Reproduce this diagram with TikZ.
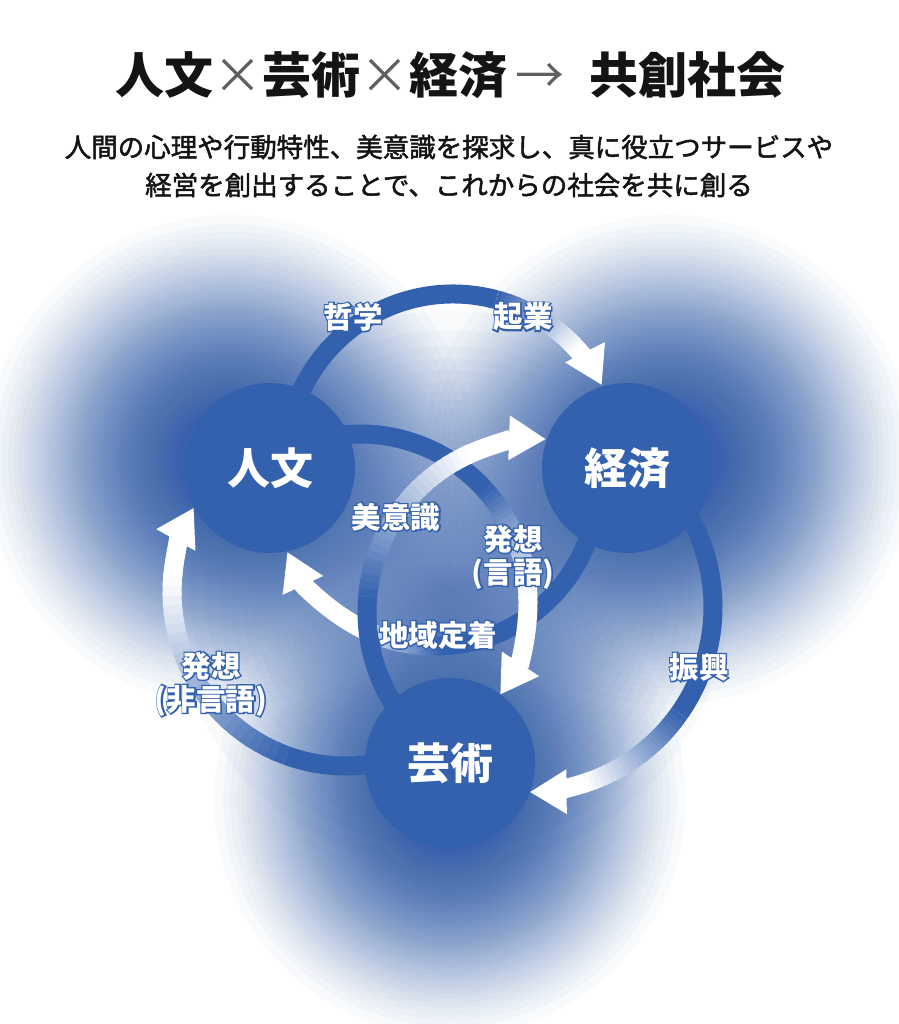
\documentclass[tikz,border=0pt]{standalone}
\usepackage{fontspec}
\setmainfont{Noto Sans CJK JP}
\newfontfamily\leadfont{Noto Sans CJK JP}[FakeBold=1.8]
\newfontfamily\halofont{Noto Sans CJK JP}[BoldFeatures={FakeBold=9}]
\usetikzlibrary{positioning,arrows.meta}
\definecolor{bandclr}{RGB}{52,97,174}
\definecolor{inkclr}{RGB}{20,20,20}
\definecolor{opclr}{RGB}{95,95,95}
\newcommand{\opsym}[1]{{\mdseries\color{opclr}#1}}
\newcommand{\halo}[1]{\leavevmode\rlap{\halofont\bfseries\color{bandclr}#1}#1}
\newcommand{\glowblob}[4]{%
  \foreach \i in {1,...,#4}{%
    \pgfmathsetmacro{\blobr}{#3*(1-(\i/(#4+0.5))^0.556)}%
    \fill[bandclr, fill opacity=0.03] (#1,#2) circle (\blobr);
  }
}
\newcommand{\flowarc}[6]{%
  \draw[band] (#1) ++(#3:#2) arc[start angle=#3, end angle=#4, radius=#2];
  \foreach \k in {0,...,23}{%
    \pgfmathsetmacro{\angA}{#4+(#5-#4)*\k/24}%
    \pgfmathsetmacro{\angB}{#4+(#5-#4)*(\k+1.4)/24}%
    \pgfmathtruncatemacro{\tonepct}{100-100*(\k+0.5)/24}%
    \draw[band, draw=bandclr!\tonepct!white] (#1) ++(\angA:#2) arc[start angle=\angA, end angle=\angB, radius=#2];
  }
  \draw[band, draw=white, -{Triangle[length=37pt,width=42pt]}] (#1) ++(#5:#2) arc[start angle=#5, end angle=#6, radius=#2];
}
\tikzset{
  band/.style={line width=19pt, draw=bandclr},
  hub/.style={circle, fill=bandclr, minimum size=170pt, inner sep=0pt, text=white,
              font=\fontsize{43}{43}\selectfont\bfseries},
  tag/.style={text=white, align=center, inner sep=0pt, font=\fontsize{29.5}{33}\selectfont\bfseries},
  headline/.style={text=inkclr, inner sep=0pt, font=\fontsize{49}{49}\selectfont\bfseries},
  lead/.style={text=inkclr, align=center, inner sep=0pt, font=\leadfont\fontsize{26.5}{38}\selectfont}
}
\begin{document}
\begin{tikzpicture}[x=1pt, y=-1pt]
  \useasboundingbox (0,0) rectangle (898,1024);
  \fill[white] (0,0) rectangle (898,1024);
  \glowblob{230}{460}{265}{105}
  \glowblob{668}{460}{265}{105}
  \glowblob{450}{800}{255}{105}
  \glowblob{450}{590}{320}{40}

  \node[headline] (title) at (450,75)
    {人文\opsym{×}芸術\opsym{×}経済\,\opsym{→}\; 共創社会};
  \node[lead] (lead) at (449,166)
    {人間の心理や行動特性、美意識を探求し、真に役立つサービスや\\経営を創出することで、これからの社会を共に創る};

  \coordinate (oTop) at (453,461);
  \coordinate (oLeft) at (346,592);
  \coordinate (oRight) at (528,607);
  \coordinate (oInA) at (360,602);
  \coordinate (oInB) at (540,612);
  \coordinate (oInC) at (435,483);
  \flowarc{oTop}{167}{200}{285}{318}{333}
  \flowarc{oLeft}{174}{60}{110}{185}{209}
  \flowarc{oRight}{185}{320}{395}{432}{449.5}
  \flowarc{oInC}{163}{15}{88}{118}{155}
  \flowarc{oInA}{168}{245}{318}{358}{393.5}
  \flowarc{oInB}{173}{145}{185}{245}{272}

  \node[hub] (jinbun) at (270,468) {人文};
  \node[hub] (keizai) at (627,468) {経済};
  \node[hub] (geijutsu) at (450,763) {芸術};

  \node[tag] (tetsugaku) at (353,317) {\halo{哲学}};
  \node[tag] (kigyo) at (523,317) {\halo{起業}};
  \node[tag] (biishiki) at (396,517) {\halo{美意識}};
  \node[tag] (hassoA) at (513,557) {\halo{発想}\\\halo{(言語)}};
  \node[tag] (chiiki) at (438,635) {\halo{地域定着}};
  \node[tag] (shinko) at (699,667) {\halo{振興}};
  \node[tag] (hassoB) at (211,684) {\halo{発想}\\\halo{(非言語)}};
\end{tikzpicture}
\end{document}
